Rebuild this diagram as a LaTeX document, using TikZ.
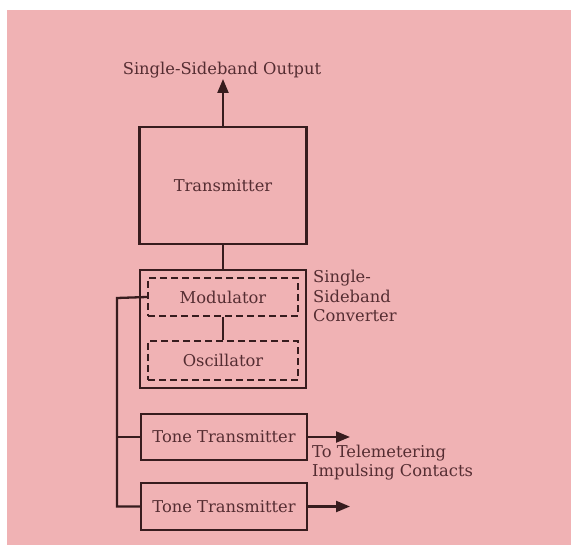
\documentclass[tikz,border=0pt]{standalone}
\usepackage{fontspec}
\setmainfont{DejaVu Serif}
\usetikzlibrary{arrows.meta}
\definecolor{bg}{RGB}{240,178,180}
\definecolor{ink}{RGB}{55,28,30}
\definecolor{txt}{RGB}{85,45,50}
\tikzset{
  x=1pt,y=-1pt,
  sbox/.style={draw=ink,line width=2.3pt},
  dbox/.style={draw=ink,line width=2pt,dash pattern=on 7pt off 4pt},
  lbl/.style={text=txt,font=\fontsize{16.3}{18}\selectfont},
  wire/.style={draw=ink,line width=2.3pt},
  arr/.style={wire,-{Triangle[length=14pt,width=11pt]}}
}
\begin{document}
\begin{tikzpicture}
\useasboundingbox (0,0) rectangle (571,545);
\fill[white] (0,0) rectangle (571,545);
\fill[bg] (7,10) rectangle (571,545);
% Transmitter
\node[sbox,minimum width=167pt,minimum height=117pt,lbl] (tx) at (223,185.5) {Transmitter};
\node[lbl] (out) at (222,70) {Single-Sideband Output};
\coordinate (otip) at (223,79);
\draw[arr] (tx.north) -- (otip);
% converter
\node[sbox,minimum width=166pt,minimum height=118pt] (conv) at (223,329) {};
\node[dbox,minimum width=150pt,minimum height=38pt,lbl] (mod) at (223,297) {Modulator};
\node[dbox,minimum width=150pt,minimum height=39pt,lbl] (osc) at (223,360.5) {Oscillator};
\node[lbl,anchor=north west,align=left,inner sep=0pt,font=\fontsize{16.3}{19.5}\selectfont] (convl) at (313,270) {Single-\\Sideband\\Converter};
\draw[wire] (tx.south) -- (conv.north);
\draw[wire] (mod.south) -- (osc.north);
% tone transmitters
\node[sbox,minimum width=166pt,minimum height=46pt,lbl] (t1) at (224,437) {Tone Transmitter};
\node[sbox,minimum width=166pt,minimum height=47pt,lbl] (t2) at (224,506.5) {Tone Transmitter};
\coordinate (e1) at (350,437);
\coordinate (e2) at (350,506.5);
\draw[arr] (t1.east) -- (e1);
\draw[arr] (t2.east) -- (e2);
\node[lbl,anchor=north west,align=left,inner sep=0pt,font=\fontsize{16.3}{19}\selectfont] (tel) at (312,445) {To Telemetering\\Impulsing Contacts};
% bus
\coordinate (b0) at (117,298);
\coordinate (b1) at (117,437);
\coordinate (b2) at (117,506.5);
\draw[wire] (mod.west) -- (b0) -- (b2) -- (t2.west);
\draw[wire] (b1) -- (t1.west);
\end{tikzpicture}
\end{document}
